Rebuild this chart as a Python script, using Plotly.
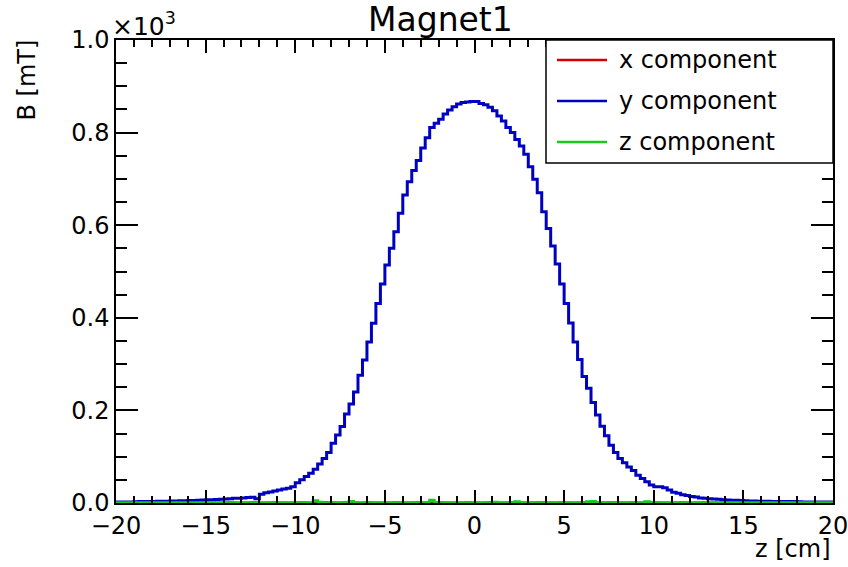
import numpy as np
import plotly.graph_objects as go

# Field map along the beam axis, 160 bins of 0.25 cm from -20 to 20 cm
z_edges = np.linspace(-20.0, 20.0, 161)

# y component [mT], one value per bin
b_y = [
    2, 2, 2, 2, 2.5, 3, 3, 3.5, 3.5, 4,
    4, 4, 4.5, 4.5, 5, 5, 5.5, 5.5, 6, 6.5,
    7, 7, 7.5, 8, 8.5, 9, 10, 10.5, 11, 12,
    12.5, 9, 19, 22, 24, 26, 28, 30, 32, 35,
    44, 50, 57, 64, 73, 84, 96, 109, 129, 147,
    165, 192, 214, 240, 276, 309, 348, 388, 431, 473,
    514, 550, 586, 626, 665, 694, 718, 740, 767, 789,
    811, 820, 829, 840, 849, 856, 862, 865, 866, 867,
    867, 863, 860, 855, 847, 836, 825, 811, 800, 785,
    771, 753, 726, 699, 670, 629, 593, 555, 516, 473,
    431, 389, 348, 310, 273, 248, 217, 190, 166, 145,
    125, 109, 96, 87, 78, 70, 60, 53, 46, 39,
    35, 35, 33, 28, 23, 21, 18, 16, 14, 13,
    11, 10, 9, 8.5, 8, 7, 6.5, 6, 6, 5.5,
    5, 4.5, 4.5, 4, 4, 4, 3.5, 3, 3, 3,
    3, 3, 2.5, 2, 2, 2, 2, 2, 2, 2,
]

# x component [mT]
b_x = [
    0, 0, -0.5, 0, 0.5, 0, -0.5, 0, 0, 0.5,
    0, -0.5, 0, 0, 0.5, 0, 0, -0.5, 0, 0.5,
    0, 0, -0.5, 0, 0, 0.5, 0, -0.5, 0, 0,
    0.5, 0, 0, -0.5, 0, 0.5, 0, 0, -0.5, 0,
    0, 0.5, 0, -0.5, 0, 0, 0.5, 0, 0, -0.5,
    0, 0.5, 0, 0, -0.5, 0, 0.5, 0, 0, -0.5,
    0, 0, 0.5, 0, -0.5, 0, 0, 0.5, 0, 0,
    -0.5, 0, 0.5, 0, 0, -0.5, 0, 0, 0.5, 0,
    0, -0.5, 0, 0.5, 0, 0, -0.5, 0, 0.5, 0,
    0, -0.5, 0, 0, 0.5, 0, -0.5, 0, 0, 0.5,
    0, 0, -0.5, 0, 0.5, 0, 0, -0.5, 0, 0,
    0.5, 0, -0.5, 0, 0, 0.5, 0, 0, -0.5, 0,
    0.5, 0, 0, -0.5, 0, 0, 0.5, 0, -0.5, 0,
    0, 0.5, 0, 0, -0.5, 0, 0.5, 0, 0, -0.5,
    0, 0, 0.5, 0, -0.5, 0, 0, 0.5, 0, 0,
    -0.5, 0, 0.5, 0, 0, -0.5, 0, 0, 0.5, 0,
]

# z component [mT]
b_z = [
    0.5, 0.5, 0.5, 0.5, 0.5, 0.5, 0.5, 0.5, 0.5, 0.5,
    0.5, 0.5, 0.5, 0.5, 0.5, 0.5, 0.5, 0.5, 0.5, 0.5,
    0.5, 0.5, 0.5, 0.5, 0.5, 0.5, 0.5, 0.5, 0.5, 0.5,
    0.5, 0.5, 0.5, 0.5, 0.5, 0.5, 0.5, 0.5, 0.5, 0.5,
    0.5, 0.5, 0.5, 0.5, 5, 1.5, 0.5, 0.5, 0.5, 0.5,
    0.5, 0.5, 3, 1, 0.5, 0.5, 0.5, 0.5, 0.5, 0.5,
    0.5, 0.5, 0.5, 0.5, 0.5, 0.5, 0.5, 0.5, 0.5, 0.5,
    6, 0.5, 0.5, 0.5, 0.5, 0.5, 0.5, 0.5, 0.5, 0.5,
    0.5, 0.5, 0.5, 0.5, 1.5, 0.5, 0.5, 0.5, 0.5, 2.5,
    0.5, 0.5, 0.5, 0.5, 0.5, 0.5, 0.5, 0.5, 0.5, 0.5,
    0.5, 0.5, 0.5, 0.5, 1, 2.5, 3, 0.5, 0.5, 0.5,
    0.5, 0.5, 0.5, 0.5, 0.5, 0.5, 0.5, 0.5, 2.5, 1,
    0.5, 0.5, 0.5, 0.5, 0.5, 0.5, 0.5, 0.5, 0.5, 0.5,
    0.5, 0.5, 0.5, 0.5, 0.5, 0.5, 0.5, 0.5, 0.5, 0.5,
    0.5, 0.5, 0.5, 0.5, 0.5, 0.5, 0.5, 0.5, 0.5, 0.5,
    0.5, 0.5, 0.5, 0.5, 0.5, 0.5, 0.5, 0.5, 0.5, 0.5,
]

series_names = ["x component", "y component", "z component"]
series_colors = ["#d40000", "#0000c0", "#19c819"]
series_values = [b_x, b_y, b_z]

x_tick_vals = [-20, -15, -10, -5, 0, 5, 10, 15, 20]
y_tick_vals = [0, 200, 400, 600, 800, 1000]
y_tick_text = ["0.0", "0.2", "0.4", "0.6", "0.8", "1.0"]

assert all(len(v) == len(z_edges) - 1 for v in series_values)

FONT = "DejaVu Sans"
W, H = 848, 567
L, R, T, B = 116, 15, 40, 64
PW, PH = W - L - R, H - T - B


def px(xp):
    return (xp - L) / PW


def py(yp):
    return (H - B - yp) / PH


fig = go.Figure()
for name, color, vals in zip(series_names, series_colors, series_values):
    # step outline: each value held across its bin
    fig.add_trace(go.Scatter(
        x=z_edges, y=list(vals) + [vals[-1]],
        mode="lines", line=dict(color=color, width=3, shape="hv"),
        name=name, showlegend=False,
    ))

# legend box
shapes = [dict(type="rect", xref="paper", yref="paper",
               x0=px(546), x1=px(833), y0=py(163), y1=py(40),
               line=dict(color="black", width=1.5), fillcolor="white", layer="above")]
annotations = []
for i, (name, color) in enumerate(zip(series_names, series_colors)):
    yc = 60 + 41 * i
    shapes.append(dict(type="line", xref="paper", yref="paper",
                       x0=px(557), x1=px(607), y0=py(yc), y1=py(yc),
                       line=dict(color=color, width=2.5), layer="above"))
    annotations.append(dict(xref="paper", yref="paper", x=px(617), y=py(yc),
                            xanchor="left", yanchor="middle", showarrow=False,
                            text=name, font=dict(family=FONT, size=24, color="black")))

# title, axis titles and exponent
annotations += [
    dict(xref="paper", yref="paper", x=px(440), y=py(20), xanchor="center", yanchor="middle",
         showarrow=False, text="Magnet1", font=dict(family=FONT, size=33, color="black")),
    dict(xref="paper", yref="paper", x=px(27), y=py(38), xanchor="center", yanchor="top",
         textangle=-90, showarrow=False, text="B [mT]",
         font=dict(family=FONT, size=24, color="black")),
    dict(xref="paper", yref="paper", x=px(833), y=py(549), xanchor="right", yanchor="middle",
         showarrow=False, text="z [cm]", font=dict(family=FONT, size=24, color="black")),
    dict(xref="paper", yref="paper", x=px(110), y=py(24), xanchor="left", yanchor="middle",
         showarrow=False, text="×10<sup>3</sup>", font=dict(family=FONT, size=25, color="black")),
]

axis_common = dict(
    showgrid=False, zeroline=False, showline=True, linecolor="black", linewidth=1.5,
    mirror="ticks", ticks="inside", tickcolor="black", tickwidth=1.5,
    ticklabeloverflow="allow", automargin=False,
    tickfont=dict(family=FONT, size=24, color="black"),
)

fig.update_layout(
    width=W, height=H,
    margin=dict(l=L, r=R, t=T, b=B, autoexpand=False),
    paper_bgcolor="white", plot_bgcolor="white",
    showlegend=False,
    shapes=shapes, annotations=annotations,
    xaxis=dict(range=[-20, 20], tickmode="array", tickvals=x_tick_vals, ticklen=13,
               minor=dict(ticks="inside", ticklen=7, dtick=1, tick0=-20,
                          tickcolor="black", tickwidth=1.5),
               **axis_common),
    yaxis=dict(range=[0, 1000], tickmode="array", tickvals=y_tick_vals, ticktext=y_tick_text,
               ticklen=22,
               minor=dict(ticks="inside", ticklen=11, dtick=50, tick0=0,
                          tickcolor="black", tickwidth=1.5),
               **axis_common),
)

fig.write_html("out.html")
